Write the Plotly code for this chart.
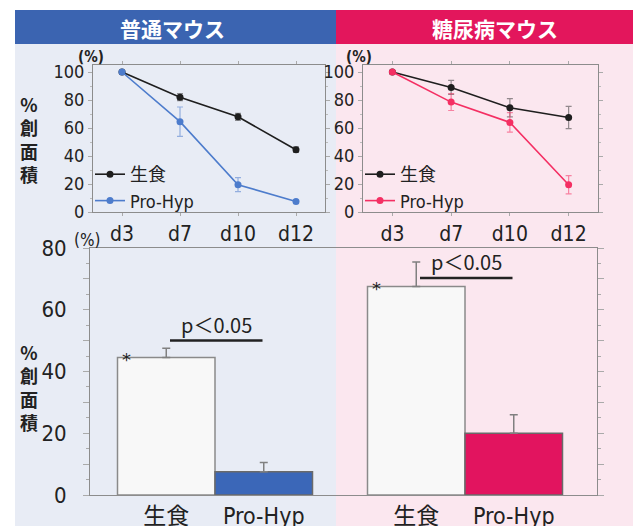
import plotly.graph_objects as go

# ---- data -------------------------------------------------------------
days = ["d3", "d7", "d10", "d12"]

# wound area (%) over time, normal mice
normal_saline = [100, 82, 68, 44.5]
normal_saline_err = [0, 2.5, 2.5, 2]
normal_prohyp = [100, 64.5, 19.5, 7.5]
normal_prohyp_err = [0, 10.5, 5, 1]

# wound area (%) over time, diabetic mice
dm_saline = [100, 89, 74.5, 67.5]
dm_saline_err = [0, 5, 6.5, 8]
dm_prohyp = [100, 78.5, 64, 19.5]
dm_prohyp_err = [0, 6, 7, 6.5]

# final wound area (%) bars
groups = ["普通マウス", "糖尿病マウス"]
treatments = ["生食", "Pro-Hyp"]
bar_normal = [44.5, 7.5]
bar_normal_err = [3, 3]
bar_dm = [67.5, 20]
bar_dm_err = [8, 6]
sig_text = "p＜0.05"

# ---- style ------------------------------------------------------------
W, H = 633, 526
BLUE_HEAD = "#3b64b1"
PINK_HEAD = "#e3165c"
BLUE_BG = "#e8ecf5"
PINK_BG = "#fbe7ef"
LINE_BLUE = "#4d7ccc"
LINE_PINK = "#f42f63"
BAR_BLUE = "#3b67b8"
BAR_PINK = "#e2145f"
AXIS = "#8c8c8c"
COND = "DejaVu Sans Condensed, Noto Sans CJK JP, sans-serif"
CJK = "Noto Sans CJK JP, sans-serif"
BAR_W = 0.39


def px_x(v):
    return v / W


def px_y(v):
    return 1 - v / H


fig = go.Figure()


def add_line(x_ax, y_ax, vals, err, color, errcolor, name, legend):
    fig.add_trace(go.Scatter(
        x=days, y=vals, name=name, mode="lines+markers",
        xaxis=x_ax, yaxis=y_ax, legend=legend,
        line=dict(color=color, width=1.6),
        marker=dict(color=color, size=7),
        error_y=dict(type="data", array=err, color=errcolor,
                     thickness=1.2, width=3),
    ))


add_line("x", "y", normal_saline, normal_saline_err, "#1e1e1e",
         "rgba(60,60,60,0.55)", treatments[0], "legend")
add_line("x", "y", normal_prohyp, normal_prohyp_err, LINE_BLUE,
         "rgba(77,124,204,0.55)", treatments[1], "legend")
add_line("x2", "y2", dm_saline, dm_saline_err, "#1e1e1e",
         "rgba(60,60,60,0.55)", treatments[0], "legend2")
add_line("x2", "y2", dm_prohyp, dm_prohyp_err, LINE_PINK,
         "rgba(244,47,99,0.55)", treatments[1], "legend2")

# bars: one trace per group, bars placed side by side around the group index
bar_sets = [(bar_normal, bar_normal_err, BAR_BLUE),
            (bar_dm, bar_dm_err, BAR_PINK)]
tick_pos, tick_txt = [], []
for g, (vals, errs, col) in enumerate(bar_sets):
    xs = [g + (t - 0.5) * BAR_W for t in range(len(treatments))]
    tick_pos += xs
    tick_txt += treatments
    fig.add_trace(go.Bar(
        x=xs, y=vals, width=BAR_W, xaxis="x3", yaxis="y3", showlegend=False,
        marker=dict(color=["#f8f8f8", col],
                    line=dict(color=["#8a8a8a", "#6a6a6a"], width=1.5)),
        error_y=dict(type="data", symmetric=False, array=errs,
                     arrayminus=[0] * len(errs), color="#808080",
                     thickness=1.5, width=4),
    ))
    # asterisk on the saline bar
    fig.add_annotation(x=g - BAR_W + 0.035, y=vals[0], xref="x3", yref="y3",
                       text="*", showarrow=False, xanchor="center",
                       yanchor="middle", yshift=-2,
                       font=dict(size=18, color="#222", family="DejaVu Sans"))

# significance labels with underline
sig_y = [50, 70.3]
for g, yv in enumerate(sig_y):
    fig.add_shape(type="line", xref="x3", yref="y3",
                  x0=g - 0.18, x1=g + 0.19, y0=yv, y1=yv,
                  line=dict(color="#222", width=2.5))
    fig.add_annotation(x=g + 0.005, y=yv, xref="x3", yref="y3", text=sig_text,
                       showarrow=False, xanchor="center", yanchor="bottom",
                       font=dict(size=20, color="#222", family=CJK))

# ---- axes ---------------------------------------------------------------
top_dom_y = [px_y(212), px_y(65)]
axis_common = dict(showline=True, linecolor=AXIS, linewidth=1, mirror="allticks",
                   showgrid=False, zeroline=False, ticks="outside",
                   tickcolor="#aaaaaa", automargin=False)
xcat = dict(axis_common, type="category", range=[-0.5, 3.5], ticklen=3,
            tickfont=dict(family=COND, size=21, color="#222"))
ytop = dict(axis_common, range=[0, 105], tickvals=[0, 20, 40, 60, 80, 100],
            ticklen=4, tickfont=dict(family=COND, size=18, color="#222"),
            minor=dict(ticks="outside", dtick=10, ticklen=2, tickcolor="#bbbbbb"))

fig.update_layout(
    width=W, height=H,
    margin=dict(l=0, r=0, t=0, b=0, pad=0, autoexpand=False),
    paper_bgcolor="white", plot_bgcolor="white",
    xaxis=dict(xcat, domain=[px_x(93), px_x(325)], anchor="y"),
    yaxis=dict(ytop, domain=top_dom_y, anchor="x"),
    xaxis2=dict(xcat, domain=[px_x(363), px_x(598)], anchor="y2"),
    yaxis2=dict(ytop, domain=top_dom_y, anchor="x2"),
    xaxis3=dict(showline=True, linecolor=AXIS, linewidth=1, mirror=True,
                showgrid=False, zeroline=False, range=[-0.5, 1.528],
                tickvals=tick_pos, ticktext=tick_txt, ticks="", automargin=False,
                tickfont=dict(family=COND, size=23, color="#222"),
                domain=[px_x(90), px_x(597)], anchor="y3"),
    yaxis3=dict(axis_common, range=[0, 80],
                tickvals=list(range(0, 81, 10)),
                ticktext=[str(v) if v % 20 == 0 else "" for v in range(0, 81, 10)],
                ticklen=6, ticklabelstandoff=12,
                tickfont=dict(family=COND, size=22, color="#222"),
                minor=dict(ticks="outside", dtick=5, ticklen=3, tickcolor="#aaaaaa"),
                domain=[px_y(495), px_y(248)], anchor="x3"),
    legend=dict(x=px_x(90), y=px_y(156), xanchor="left", yanchor="top",
                bgcolor="rgba(0,0,0,0)", itemwidth=30, tracegroupgap=0,
                font=dict(family=COND, size=18, color="#222")),
    legend2=dict(x=px_x(360), y=px_y(156), xanchor="left", yanchor="top",
                 bgcolor="rgba(0,0,0,0)", itemwidth=30, tracegroupgap=0,
                 font=dict(family=COND, size=18, color="#222")),
    barmode="overlay",
)

# ---- backgrounds and header bands -----------------------------------------
panels = [(15, 336, BLUE_BG, BLUE_HEAD, groups[0], 172),
          (336, W, PINK_BG, PINK_HEAD, groups[1], 495)]
for x0, x1, bg, head, title, tx in panels:
    fig.add_shape(type="rect", xref="paper", yref="paper", layer="below",
                  x0=px_x(x0), x1=px_x(x1), y0=0, y1=px_y(44),
                  fillcolor=bg, line=dict(width=0))
    fig.add_shape(type="rect", xref="paper", yref="paper", layer="below",
                  x0=px_x(x0), x1=px_x(x1), y0=px_y(44), y1=px_y(10),
                  fillcolor=head, line=dict(width=0))
    fig.add_annotation(x=px_x(tx), y=px_y(28), xref="paper", yref="paper",
                       text=f"<b>{title}</b>", showarrow=False,
                       xanchor="center", yanchor="middle",
                       font=dict(family=CJK, size=21, color="white"))

# unit labels
for ux, uy, size, bold in [(91, 57, 15, True), (359, 57, 15, True), (87, 240, 17, False)]:
    fig.add_annotation(x=px_x(ux), y=px_y(uy), xref="paper", yref="paper",
                       text="<b>(%)</b>" if bold else "(%)", showarrow=False,
                       xanchor="center", yanchor="middle",
                       font=dict(family=COND, size=size, color="#222"))

# vertical axis titles, one character per line
ytitle = "<br>".join(f"<b>{ch}</b>" for ch in "%創面積")
for cy in [139, 387]:
    fig.add_annotation(x=px_x(29), y=px_y(cy), xref="paper", yref="paper",
                       text=ytitle, showarrow=False,
                       xanchor="center", yanchor="middle",
                       font=dict(family=CJK, size=18, color="#222"))

fig.write_html("out.html")
